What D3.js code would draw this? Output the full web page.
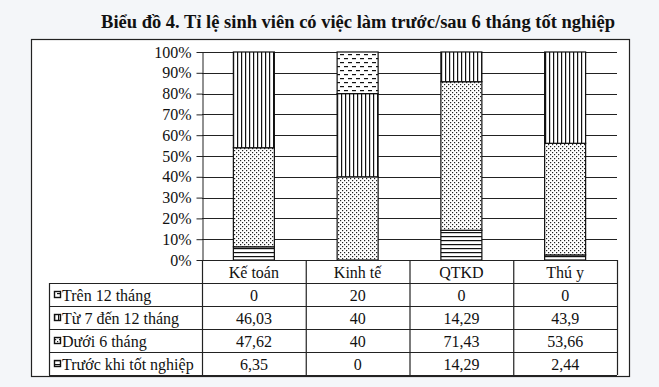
<!DOCTYPE html>
<html>
<head>
<meta charset="utf-8">
<script src="https://cdn.jsdelivr.net/npm/d3@7"></script>
<style>
  body { margin: 0; background: #f4f6f9; }
  svg { display: block; font-family: "Liberation Serif", "Times New Roman", serif; }
</style>
</head>
<body>
<svg id="chart" width="659" height="387"></svg>
<script>
// categories and series (bottom to top of the stack)
const categories = ["Kế toán", "Kinh tế", "QTKD", "Thú y"];
const seriesNames = ["Trước khi tốt nghiệp", "Dưới 6 tháng", "Từ 7 đến 12 tháng", "Trên 12 tháng"];
const truocKhiTotNghiep = [6.35, 0, 14.29, 2.44];
const duoi6Thang = [47.62, 40, 71.43, 53.66];
const tu7Den12Thang = [46.03, 40, 14.29, 43.9];
const tren12Thang = [0, 20, 0, 0];
const yTicks = [0, 10, 20, 30, 40, 50, 60, 70, 80, 90, 100];

const seriesValues = [truocKhiTotNghiep, duoi6Thang, tu7Den12Thang, tren12Thang];
const patternIds = ["pHoriz", "pDots", "pVert", "pDash"];

const svg = d3.select("#chart");
const vn = d3.formatLocale({ decimal: ",", thousands: ".", grouping: [3], currency: ["", ""] });
const fmt = vn.format("~f");
const serif = "Liberation Serif, Times New Roman, serif";

// patterns
const defs = svg.append("defs");
let p = defs.append("pattern").attr("id", "pHoriz").attr("patternUnits", "userSpaceOnUse")
  .attr("width", 4).attr("height", 4);
p.append("rect").attr("width", 4).attr("height", 4).attr("fill", "#fff");
p.append("rect").attr("y", 0).attr("width", 4).attr("height", 1.2).attr("fill", "#111");

p = defs.append("pattern").attr("id", "pVert").attr("patternUnits", "userSpaceOnUse")
  .attr("width", 4).attr("height", 4);
p.append("rect").attr("width", 4).attr("height", 4).attr("fill", "#fff");
p.append("rect").attr("x", 1).attr("width", 1.2).attr("height", 4).attr("fill", "#111");

p = defs.append("pattern").attr("id", "pDots").attr("patternUnits", "userSpaceOnUse")
  .attr("width", 4).attr("height", 4);
p.append("rect").attr("width", 4).attr("height", 4).attr("fill", "#fff");
p.append("rect").attr("x", 0).attr("y", 0).attr("width", 1.2).attr("height", 1.2).attr("fill", "#222");
p.append("rect").attr("x", 2).attr("y", 2).attr("width", 1.2).attr("height", 1.2).attr("fill", "#222");

p = defs.append("pattern").attr("id", "pDash").attr("patternUnits", "userSpaceOnUse")
  .attr("width", 8).attr("height", 8);
p.append("rect").attr("width", 8).attr("height", 8).attr("fill", "#fff");
p.append("rect").attr("x", 0).attr("y", 2).attr("width", 4).attr("height", 1.2).attr("fill", "#111");
p.append("rect").attr("x", 4).attr("y", 6).attr("width", 4).attr("height", 1.2).attr("fill", "#111");

// title
svg.append("text")
  .attr("x", 358).attr("y", 28)
  .attr("text-anchor", "middle")
  .attr("font-size", 18.5).attr("font-weight", "bold").attr("fill", "#111")
  .text("Biểu đồ 4. Tỉ lệ sinh viên có việc làm trước/sau 6 tháng tốt nghiệp");

// outer frame
svg.append("rect")
  .attr("x", 31.5).attr("y", 39.5).attr("width", 598).attr("height", 337)
  .attr("fill", "#fff").attr("stroke", "#222").attr("stroke-width", 1.2);

const margin = { left: 202, right: 617, top: 52, bottom: 260 };
const x = d3.scaleBand().domain(categories).range([margin.left, margin.right]).padding(0);
const y = d3.scaleLinear().domain([0, 100]).range([margin.bottom, margin.top]);
const barW = 41;

// gridlines
svg.append("g")
  .selectAll("line")
  .data(yTicks.filter(d => d > 0))
  .join("line")
  .attr("x1", margin.left).attr("x2", margin.right)
  .attr("y1", d => Math.round(y(d)) + 0.5).attr("y2", d => Math.round(y(d)) + 0.5)
  .attr("stroke", "#222").attr("stroke-width", 1.1);

// y axis
const yAxis = svg.append("g")
  .attr("transform", `translate(${margin.left + 0.5},0)`)
  .call(d3.axisLeft(y).tickValues(yTicks).tickFormat(d => d + "%").tickSize(6).tickSizeOuter(0));
yAxis.attr("font-family", serif);
yAxis.select(".domain").attr("stroke", "#222");
yAxis.selectAll(".tick line").attr("stroke", "#222");
yAxis.selectAll(".tick text")
  .attr("font-size", 16).attr("fill", "#111").attr("x", -11);

// stacked bars
const rows = categories.map((c, i) => {
  const o = { cat: c };
  seriesNames.forEach((s, j) => { o[s] = seriesValues[j][i]; });
  return o;
});
const stacked = d3.stack().keys(seriesNames)(rows);

svg.append("g")
  .selectAll("g")
  .data(stacked)
  .join("g")
  .attr("fill", (d, i) => `url(#${patternIds[i]})`)
  .selectAll("rect")
  .data(d => d.filter(v => v[1] - v[0] > 0))
  .join("rect")
  .attr("x", d => x(d.data.cat) + (x.bandwidth() - barW) / 2)
  .attr("y", d => y(d[1]))
  .attr("width", barW)
  .attr("height", d => y(d[0]) - y(d[1]))
  .attr("stroke", "#111").attr("stroke-width", 1.2);

// data table
const rowH = 23;
const tableTop = margin.bottom;
const legendLeft = 49;
const tableRows = seriesNames.slice().reverse();
const tableRowY = d3.scaleBand().domain(["header"].concat(tableRows))
  .range([tableTop, tableTop + rowH * 5]);
const table = svg.append("g").attr("stroke", "#222").attr("stroke-width", 1.2);

// horizontal lines
table.selectAll("line.h")
  .data(d3.range(6))
  .join("line")
  .attr("x1", (d, i) => i === 0 ? margin.left : legendLeft)
  .attr("x2", margin.right)
  .attr("y1", d => tableTop + d * rowH + 0.5)
  .attr("y2", d => tableTop + d * rowH + 0.5);
// vertical lines
const vx = categories.map(c => x(c)).concat([margin.right]);
table.selectAll("line.v")
  .data(vx)
  .join("line")
  .attr("x1", d => d + 0.5).attr("x2", d => d + 0.5)
  .attr("y1", tableTop).attr("y2", tableTop + rowH * 5);
table.append("line")
  .attr("x1", legendLeft + 0.5).attr("x2", legendLeft + 0.5)
  .attr("y1", tableTop + rowH).attr("y2", tableTop + rowH * 5);

// header text
svg.append("g").selectAll("text")
  .data(categories)
  .join("text")
  .attr("x", d => x(d) + x.bandwidth() / 2)
  .attr("y", tableRowY("header") + 17.5)
  .attr("text-anchor", "middle").attr("font-size", 16).attr("fill", "#111")
  .text(d => d);

// legend cells
const leg = svg.append("g").selectAll("g")
  .data(tableRows)
  .join("g")
  .attr("transform", d => `translate(${legendLeft},${tableRowY(d)})`);
leg.append("rect")
  .attr("x", 5.5).attr("y", 8.5).attr("width", 6).attr("height", 6)
  .attr("fill", d => `url(#${patternIds[seriesNames.indexOf(d)]})`)
  .attr("stroke", "#111").attr("stroke-width", 1.4);
leg.append("text")
  .attr("x", 13).attr("y", 17.5)
  .attr("font-size", 16).attr("fill", "#111")
  .text(d => d);

// value cells
tableRows.forEach(s => {
  const vals = seriesValues[seriesNames.indexOf(s)];
  svg.append("g").selectAll("text")
    .data(categories)
    .join("text")
    .attr("x", d => x(d) + x.bandwidth() / 2)
    .attr("y", tableRowY(s) + 17.5)
    .attr("text-anchor", "middle").attr("font-size", 16).attr("fill", "#111")
    .text((d, i) => fmt(vals[i]));
});
</script>
</body>
</html>
